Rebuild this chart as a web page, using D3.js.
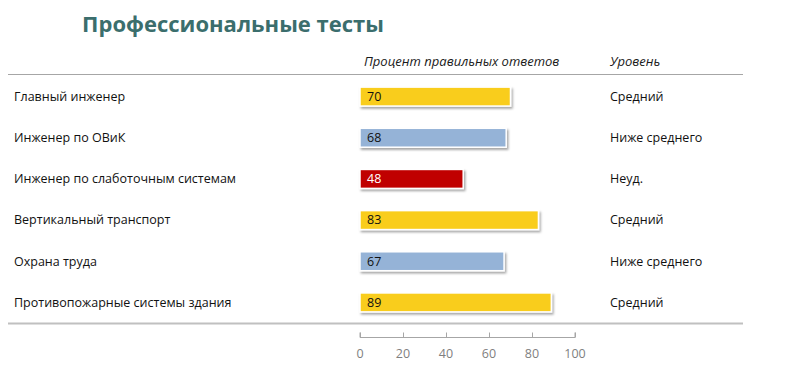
<!DOCTYPE html>
<html>
<head>
<meta charset="utf-8">
<script src="https://cdn.jsdelivr.net/npm/d3@7"></script>
<style>
  body { margin: 0; background: #fff; }
  svg { display: block; font-family: "Open Sans", "Noto Sans", sans-serif; }
</style>
</head>
<body>
<svg id="chart" width="800" height="369"></svg>
<script>
const categories = [
  "Главный инженер",
  "Инженер по ОВиК",
  "Инженер по слаботочным системам",
  "Вертикальный транспорт",
  "Охрана труда",
  "Противопожарные системы здания"
];
const scores = [70, 68, 48, 83, 67, 89];
const levels = ["Средний", "Ниже среднего", "Неуд.", "Средний", "Ниже среднего", "Средний"];
const xTicks = [0, 20, 40, 60, 80, 100];

const levelColours = {
  "Средний": "#f9cd1f",
  "Ниже среднего": "#95b3d7",
  "Неуд.": "#c00000"
};

const svg = d3.select("#chart");

const x = d3.scaleLinear().domain([0, 100]).range([360, 575]);
const y = d3.scaleBand().domain(categories).range([76, 323]).paddingInner(0.54).paddingOuter(0.27);

const defs = svg.append("defs");
const shadow = defs.append("filter").attr("id", "shadow")
  .attr("x", "-10%").attr("y", "-30%").attr("width", "120%").attr("height", "180%");
shadow.append("feDropShadow")
  .attr("dx", 1.5).attr("dy", 2).attr("stdDeviation", 1.2)
  .attr("flood-color", "#000").attr("flood-opacity", 0.35);

// title
svg.append("text")
  .attr("x", 233).attr("y", 32)
  .attr("text-anchor", "middle")
  .attr("font-size", 22)
  .attr("font-weight", "bold")
  .attr("fill", "#3b6e6d")
  .text("Профессиональные тесты");

// column headers
svg.append("text")
  .attr("x", 364).attr("y", 66)
  .attr("font-size", 13).attr("font-style", "italic").attr("fill", "#1a1a1a")
  .text("Процент правильных ответов");
svg.append("text")
  .attr("x", 610).attr("y", 66)
  .attr("font-size", 13).attr("font-style", "italic").attr("fill", "#1a1a1a")
  .text("Уровень");

// separator lines
svg.append("line")
  .attr("x1", 8).attr("x2", 743).attr("y1", 74.5).attr("y2", 74.5)
  .attr("stroke", "#a6a6a6").attr("stroke-width", 1.2);
svg.append("line")
  .attr("x1", 8).attr("x2", 743).attr("y1", 323.5).attr("y2", 323.5)
  .attr("stroke", "#c0c0c0").attr("stroke-width", 2);

const rows = svg.append("g").selectAll("g")
  .data(categories)
  .enter()
  .append("g")
  .attr("transform", d => `translate(0,${y(d)})`);

rows.append("text")
  .attr("x", 14).attr("y", y.bandwidth() / 2)
  .attr("dy", "0.35em")
  .attr("font-size", 12.5).attr("fill", "#111")
  .text(d => d);

rows.append("rect")
  .attr("x", x(0))
  .attr("y", 0)
  .attr("width", (d, i) => x(scores[i]) - x(0))
  .attr("height", y.bandwidth())
  .attr("fill", (d, i) => levelColours[levels[i]])
  .attr("stroke", "#fff")
  .attr("stroke-width", 1.5)
  .attr("filter", "url(#shadow)");

rows.append("text")
  .attr("x", x(0) + 7).attr("y", y.bandwidth() / 2)
  .attr("dy", "0.35em")
  .attr("font-size", 12.5)
  .attr("fill", (d, i) => levels[i] === "Неуд." ? "#fff" : "#111")
  .text((d, i) => scores[i]);

rows.append("text")
  .attr("x", 610).attr("y", y.bandwidth() / 2)
  .attr("dy", "0.35em")
  .attr("font-size", 12.5).attr("fill", "#111")
  .text((d, i) => levels[i]);

// x axis
const axis = svg.append("g")
  .attr("transform", "translate(0,337.5)")
  .call(d3.axisTop(x).tickValues(xTicks).tickSize(5).tickFormat(""));
axis.select(".domain").attr("stroke", "#a6a6a6").attr("d", `M${x(0)},-5V0H${x(100)}V-5`);
axis.selectAll(".tick line").attr("stroke", "#a6a6a6");

svg.append("g").selectAll("text")
  .data(xTicks)
  .enter()
  .append("text")
  .attr("x", d => x(d)).attr("y", 354)
  .attr("dy", "0.35em")
  .attr("text-anchor", "middle")
  .attr("font-size", 12.5).attr("fill", "#7f7f7f")
  .text(d => d);
</script>
</body>
</html>
